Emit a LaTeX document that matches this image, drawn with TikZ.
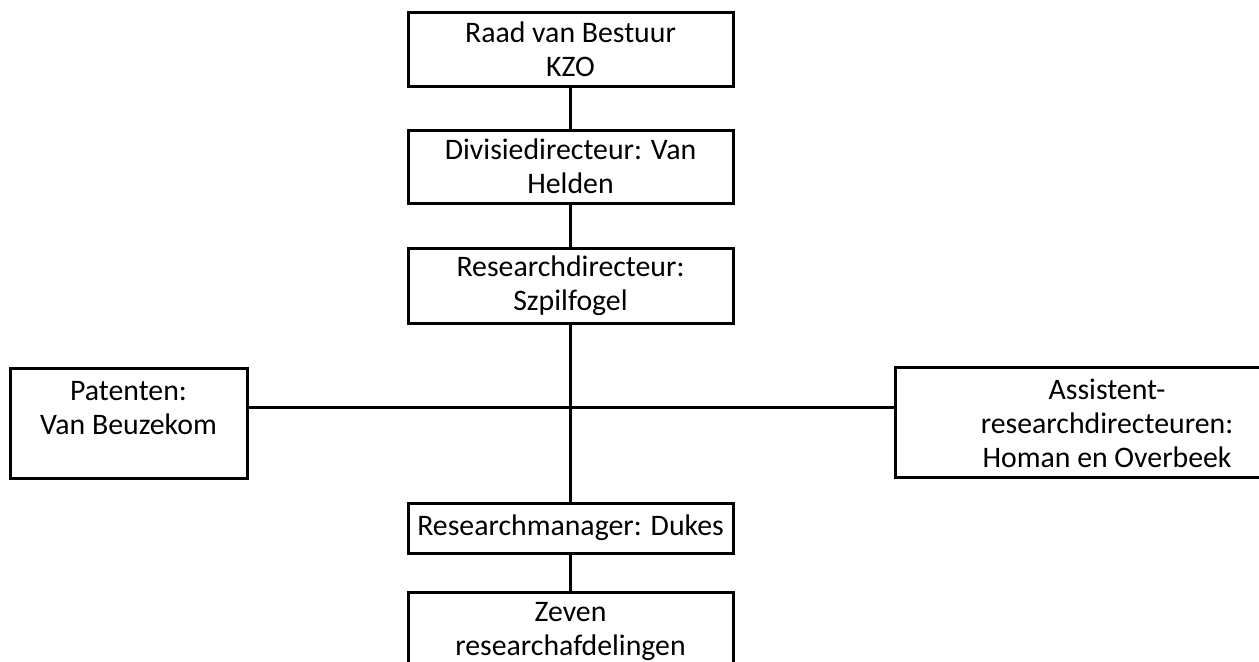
\documentclass[tikz,border=0pt]{standalone}
\usepackage{fontspec}
\setmainfont{Carlito}
\usepackage{tikz}
\tikzset{
	orgbox/.style={draw, line width=1.5pt, align=center, inner sep=0pt, minimum width=162.5pt, font=\fontsize{14.9pt}{17pt}\selectfont},
	orgline/.style={line width=1.5pt}
}

\begin{document}
\begin{tikzpicture}[x=0.5pt, y=-0.5pt]
		%%%%% START %%%%%
		
		\useasboundingbox (0, 0) rectangle (1259, 661);
		\clip (0, 0) rectangle (1259, 661);
		
		\node[orgbox, minimum height=37pt] (raad) at (570.5, 49) {Raad van Bestuur\\KZO};
		\node[orgbox, minimum height=36.5pt] (divisie) at (570.5, 166.5) {Divisiedirecteur: Van\\Helden};
		\node[orgbox, minimum height=37.5pt] (resdir) at (570.5, 285.5) {Researchdirecteur:\\Szpilfogel};
		
		\node[orgbox, minimum width=118.5pt, minimum height=55pt, text height=33pt, text depth=22pt] (patenten) at (128.5, 423) {Patenten:\\Van Beuzekom};
		\node[orgbox, minimum width=212pt, minimum height=55pt, text height=50pt, text depth=5pt] (assist) at (1107, 422) {Assistent-\\researchdirecteuren:\\Homan en Overbeek};
		
		\node[orgbox, minimum height=25pt] (manager) at (570.5, 528) {Researchmanager: Dukes};
		\node[orgbox, minimum height=50pt, text height=31.5pt, text depth=18.5pt] (zeven) at (570.5, 642) {Zeven\\researchafdelingen};
		
		\coordinate (hub) at (570.5, 407);
		
		\draw[orgline] (raad) -- (divisie);
		\draw[orgline] (divisie) -- (resdir);
		\draw[orgline] (resdir) -- (manager);
		\draw[orgline] (manager) -- (zeven);
		\draw[orgline] (patenten.east |- hub) -- (assist.west |- hub);
		
		%%%%% END %%%%%
	\end{tikzpicture}
\end{document}
